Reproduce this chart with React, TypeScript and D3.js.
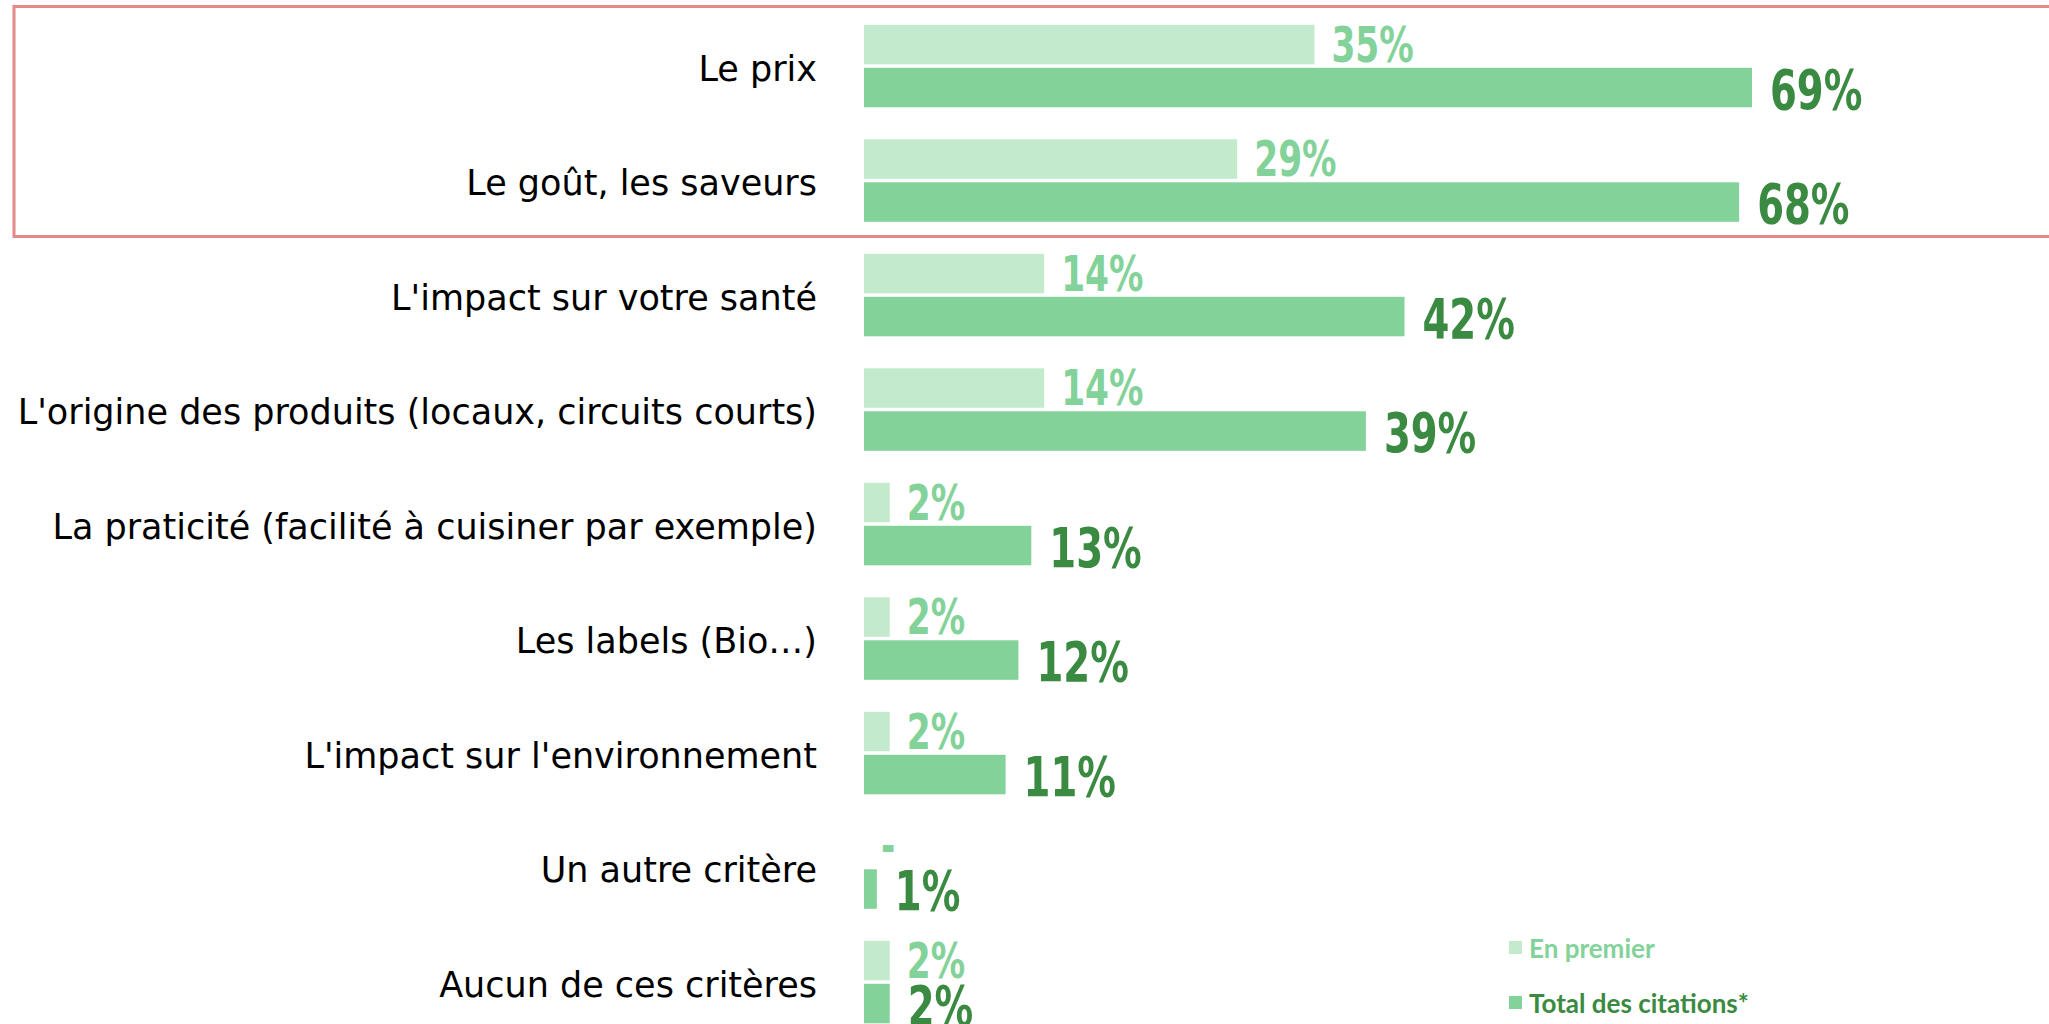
import React from "react";
import * as d3 from "d3";

const categories = [
  "Le prix",
  "Le goût, les saveurs",
  "L'impact sur votre santé",
  "L'origine des produits (locaux, circuits courts)",
  "La praticité (facilité à cuisiner par exemple)",
  "Les labels (Bio…)",
  "L'impact sur l'environnement",
  "Un autre critère",
  "Aucun de ces critères",
];
const enPremier = [35, 29, 14, 14, 2, 2, 2, 0, 2];
const totalCitations = [69, 68, 42, 39, 13, 12, 11, 1, 2];
const legendLabels = ["En premier", "Total des citations*"];

const W = 2049;
const H = 1024;
const LIGHT = "#c3eacd";
const MID = "#83d29a";
const DARK = "#3a8a42";

export default function App() {
  const x = d3.scaleLinear().domain([0, 69]).range([864, 1752]);
  const y = d3
    .scaleBand<string>()
    .domain(categories)
    .range([24.8, 24.8 + 114.5 * categories.length])
    .paddingInner(0)
    .paddingOuter(0);
  const barH = 39.5;
  const gap = 3.5;
  const valueFont = "'DejaVu Sans Condensed', 'DejaVu Sans', sans-serif";
  const labelFont = "'DejaVu Sans', sans-serif";
  const legendFont = "Lato, 'DejaVu Sans', sans-serif";
  const sx = 0.78;

  return (
    <svg
      width={W}
      height={H}
      style={{ position: "absolute", left: 0, top: 0, background: "#fff" }}
    >
      <rect x={0} y={0} width={W} height={H} fill="#ffffff" />
      {categories.map((c, i) => {
        const top = y(c)!;
        const v1 = enPremier[i];
        const v2 = totalCitations[i];
        return (
          <g key={c}>
            <text
              x={817}
              y={top + 56}
              textAnchor="end"
              fontFamily={labelFont}
              fontWeight={400}
              fontSize={35}
              fill="#000"
            >
              {c}
            </text>
            {v1 > 0 && (
              <rect x={x(0)} y={top} width={x(v1) - x(0)} height={barH} fill={LIGHT} />
            )}
            <rect
              x={x(0)}
              y={top + barH + gap}
              width={x(v2) - x(0)}
              height={barH}
              fill={MID}
            />
            <g transform={`translate(${x(v1) + 17},${top + 37}) scale(${sx},1)`}>
              <text
                x={0}
                y={0}
                fontFamily={valueFont}
                fontWeight="bold"
                fontSize={49}
                fill={MID}
              >
                {v1 > 0 ? `${v1}%` : "-"}
              </text>
            </g>
            <g transform={`translate(${x(v2) + 18},${top + 84}) scale(${sx},1)`}>
              <text
                x={0}
                y={0}
                fontFamily={valueFont}
                fontWeight="bold"
                fontSize={55}
                fill={DARK}
              >
                {`${v2}%`}
              </text>
            </g>
          </g>
        );
      })}
      <rect x={1509} y={941} width={13} height={13} fill={LIGHT} />
      <text x={1529} y={958} fontFamily={legendFont} fontWeight="bold" fontSize={26} fill={MID}>
        {legendLabels[0]}
      </text>
      <rect x={1509} y={996} width={13} height={13} fill={MID} />
      <text x={1529} y={1013} fontFamily={legendFont} fontWeight="bold" fontSize={26} fill={DARK}>
        {legendLabels[1]}
      </text>
      <rect
        x={14}
        y={6.5}
        width={2060}
        height={230}
        fill="none"
        stroke="#e48a8a"
        strokeWidth={3}
      />
    </svg>
  );
}
